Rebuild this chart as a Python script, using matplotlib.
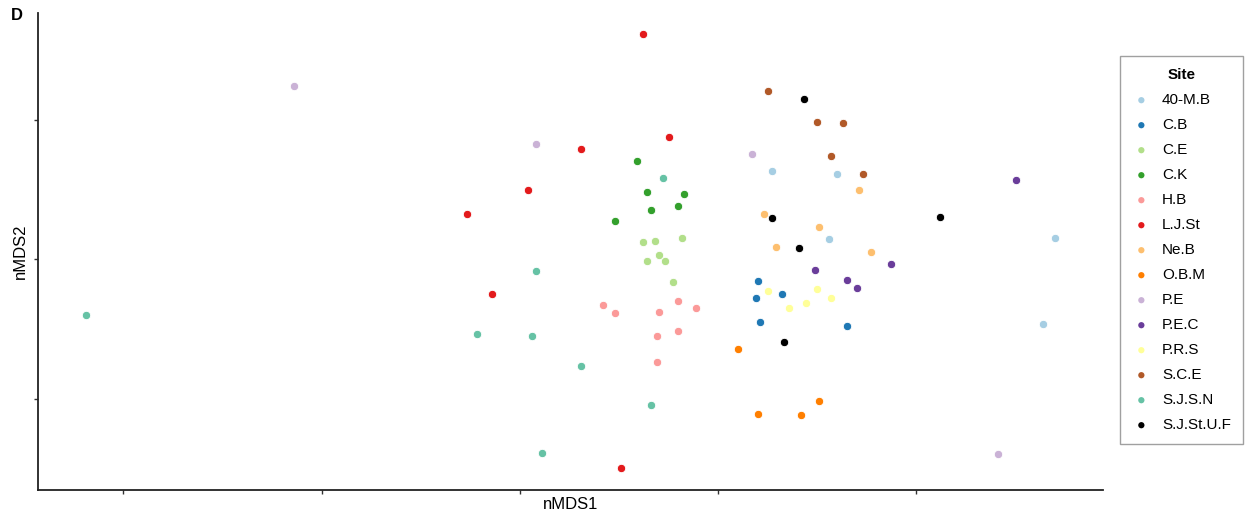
import matplotlib
matplotlib.use("Agg")
import matplotlib.pyplot as plt

plt.rcParams['font.family'] = ['Liberation Sans', 'DejaVu Sans']

# --- Site scores from the nMDS ordination ---
sites = ['40-M.B', 'C.B', 'C.E', 'C.K', 'H.B', 'L.J.St', 'Ne.B', 'O.B.M',
         'P.E', 'P.E.C', 'P.R.S', 'S.C.E', 'S.J.S.N', 'S.J.St.U.F']
site_colors = ['#a6cee3', '#1f78b4', '#b2df8a', '#33a02c', '#fb9a99', '#e31a1c',
               '#fdbf6f', '#ff7f00', '#cab2d6', '#6a3d9a', '#ffff99', '#b15928',
               '#66c2a5', '#000000']

nmds1 = {
    '40-M.B':     [0.636, 0.800, 0.780, 1.350, 1.320],
    'C.B':        [0.600, 0.660, 0.595, 0.605, 0.825],
    'C.E':        [0.310, 0.340, 0.410, 0.350, 0.320, 0.366, 0.385],
    'C.K':        [0.295, 0.320, 0.415, 0.400, 0.330, 0.240],
    'H.B':        [0.210, 0.241, 0.400, 0.445, 0.350, 0.345, 0.400, 0.345],
    'L.J.St':     [0.310, 0.375, 0.155, 0.020, -0.134, -0.070, 0.255],
    'Ne.B':       [0.615, 0.755, 0.645, 0.855, 0.885],
    'O.B.M':      [0.551, 0.600, 0.710, 0.755],
    'P.E':        [-0.570, 0.040, 0.585, 1.205],
    'P.E.C':      [1.250, 0.935, 0.745, 0.825, 0.850],
    'P.R.S':      [0.625, 0.750, 0.721, 0.679, 0.785],
    'S.C.E':      [0.625, 0.750, 0.815, 0.785, 0.865],
    'S.J.S.N':    [-1.095, 0.361, 0.040, -0.109, 0.030, 0.155, 0.330, 0.055],
    'S.J.St.U.F': [0.716, 0.635, 0.704, 1.060, 0.666],
}
nmds2 = {
    '40-M.B':     [0.315, 0.305, 0.071, 0.075, -0.234],
    'C.B':        [-0.080, -0.124, -0.140, -0.224, -0.240],
    'C.E':        [0.061, 0.066, 0.075, 0.015, -0.005, -0.005, -0.083],
    'C.K':        [0.350, 0.241, 0.235, 0.191, 0.175, 0.136],
    'H.B':        [-0.164, -0.193, -0.149, -0.174, -0.189, -0.275, -0.259, -0.369],
    'L.J.St':     [0.806, 0.436, 0.395, 0.246, 0.161, -0.124, -0.749],
    'Ne.B':       [0.161, 0.116, 0.045, 0.246, 0.026],
    'O.B.M':      [-0.323, -0.554, -0.559, -0.509],
    'P.E':        [0.619, 0.411, 0.376, -0.698],
    'P.E.C':      [0.285, -0.019, -0.039, -0.074, -0.105],
    'P.R.S':      [-0.113, -0.108, -0.159, -0.174, -0.140],
    'S.C.E':      [0.601, 0.491, 0.486, 0.371, 0.305],
    'S.J.S.N':    [-0.199, 0.290, -0.044, -0.270, -0.275, -0.384, -0.524, -0.694],
    'S.J.St.U.F': [0.575, 0.146, 0.040, 0.150, -0.298],
}

x_ticks = [-1.0, -0.5, 0.0, 0.5, 1.0]
y_ticks = [-0.5, 0.0, 0.5]

fig = plt.figure(figsize=(12.55, 5.16), dpi=100)
ax = fig.add_axes([0.030, 0.051, 0.849, 0.924])

for site, col in zip(sites, site_colors):
    ax.scatter(nmds1[site], nmds2[site], s=36, color=col,
               edgecolors='white', linewidths=0.6, label=site, zorder=3)

ax.set_xlim(-1.216, 1.471)
ax.set_ylim(-0.826, 0.882)
ax.set_xticks(x_ticks)
ax.set_yticks(y_ticks)
ax.set_xticklabels([])
ax.set_yticklabels([])
ax.tick_params(direction='out', length=3, width=1, color='#333333', pad=1)
for side in ['top', 'right']:
    ax.spines[side].set_visible(False)
for side in ['left', 'bottom']:
    ax.spines[side].set_linewidth(1.3)
    ax.spines[side].set_color('#222222')

ax.set_xlabel('nMDS1', fontsize=12, labelpad=1)
ax.set_ylabel('nMDS2', fontsize=12, labelpad=3)

fig.text(0.009, 0.969, 'D', fontsize=12, fontweight='bold', va='center')

leg = ax.legend(title='Site', loc='upper left', bbox_to_anchor=(0.8924, 0.8915),
                bbox_transform=fig.transFigure, borderaxespad=0, fontsize=11,
                title_fontproperties={'weight': 'bold', 'size': 11},
                frameon=True, fancybox=False, markerscale=0.75,
                labelspacing=0.72, handletextpad=0.75, borderpad=0.8,
                handlelength=1.2)
leg.get_frame().set_edgecolor('#888888')
leg.get_frame().set_linewidth(1.0)
for h in leg.legend_handles:
    h.set_edgecolor('none')

fig.savefig('out.png', dpi=100)
